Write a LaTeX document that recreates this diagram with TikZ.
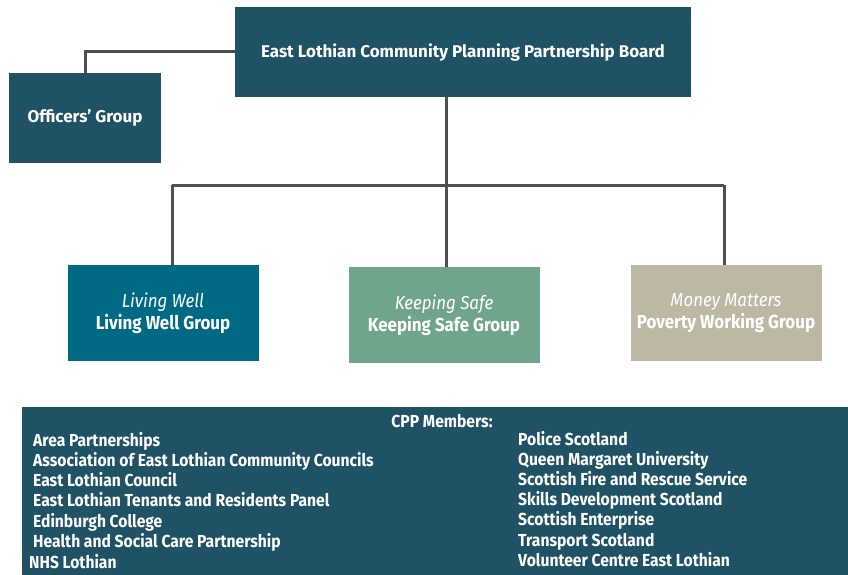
\documentclass[tikz,border=0pt]{standalone}
\usepackage{fontspec}
\setmainfont{Fira Sans}
\newfontfamily\narrowfont{Fira Sans}[FakeStretch=0.9]
\usetikzlibrary{positioning}
\definecolor{cppteal}{HTML}{1E5264}
\definecolor{wellblue}{HTML}{006A85}
\definecolor{safegreen}{HTML}{6FA58A}
\definecolor{moneystone}{HTML}{BDB7A4}
\definecolor{linkgrey}{HTML}{4F4F4F}

\begin{document}
\begin{tikzpicture}[x=1pt,y=-1pt,
    box/.style={fill=#1, text=white, inner sep=0pt, align=center},
    link/.style={linkgrey, line width=3pt},
    group/.style={box=#1, minimum width=191pt, minimum height=96pt,
        font=\narrowfont\fontsize{18.8}{22}\selectfont},
    member/.style={text=white, anchor=base west, inner sep=0pt,
        font=\narrowfont\bfseries\fontsize{17.4}{19}\selectfont}]
    \useasboundingbox (0,0) rectangle (848,575);

    % Board and officers
    \node[box=cppteal, minimum width=456pt, minimum height=90pt,
        font=\bfseries\fontsize{17}{20}\selectfont] (board) at (463,52)
        {East Lothian Community Planning Partnership Board};
    \node[box=cppteal, minimum width=152pt, minimum height=90pt,
        font=\bfseries\fontsize{17}{20}\selectfont] (officers) at (85,118) {Officers’ Group};
    \draw[link] (board.west) -| (officers.north);

    % Theme groups
    \node[group=wellblue] (well) at (163,313)
        {{\itshape Living Well}\\\textbf{Living Well Group}};
    \node[group=safegreen] (safe) at (444,315)
        {{\itshape Keeping Safe}\\\textbf{Keeping Safe Group}};
    \node[group=moneystone] (money) at (726,313)
        {{\itshape Money Matters}\\\textbf{Poverty Working Group}};

    \coordinate (hub) at (446,185);
    \coordinate (hubL) at (172,185);
    \coordinate (hubR) at (724,185);
    \draw[link] (board.south -| hub) -- (hub);
    \draw[link] (hubL) -- (hubR);
    \draw[link] (hubL) -- (well.north -| hubL);
    \draw[link] (hub) -- (safe.north -| hub);
    \draw[link] (hubR) -- (money.north -| hubR);

    % Members panel
    \node[box=cppteal, minimum width=826pt, minimum height=168pt] (members) at (435,491) {};
    \node[member, anchor=base] (title) at (442,427) {CPP Members:};
    \foreach \who [count=\i] in {Area Partnerships,
        Association of East Lothian Community Councils, East Lothian Council,
        East Lothian Tenants and Residents Panel, Edinburgh College,
        Health and Social Care Partnership}
        \node[member] (left\i) at (33,{446+20.3*(\i-1)}) {\who};
    \node[member] (left7) at (29,568) {NHS Lothian};
    \foreach \who [count=\i] in {Police Scotland, Queen Margaret University,
        Scottish Fire and Rescue Service, Skills Development Scotland,
        Scottish Enterprise, Transport Scotland, Volunteer Centre East Lothian}
        \node[member] (right\i) at (518,{445+20.2*(\i-1)}) {\who};
\end{tikzpicture}
\end{document}
